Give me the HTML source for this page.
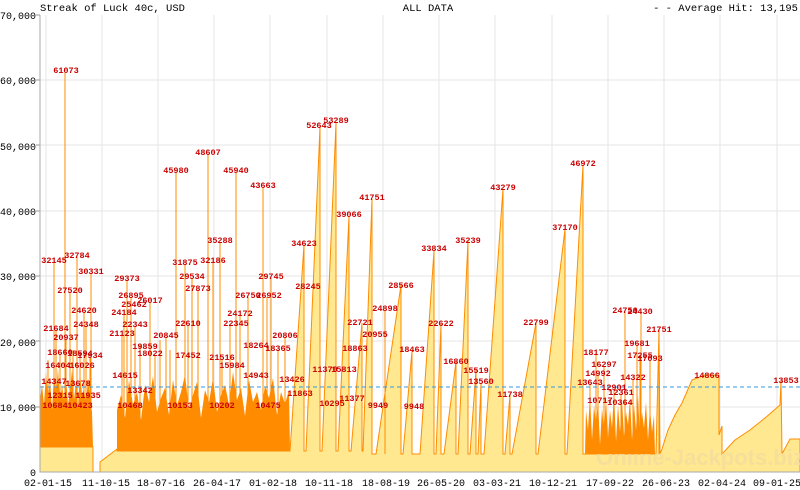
<!DOCTYPE html>
<html><head><meta charset="utf-8"><style>
html,body{margin:0;padding:0;background:#fff;width:800px;height:490px;overflow:hidden}
svg text{font-family:"Liberation Mono","DejaVu Sans Mono",monospace}
</style></head><body>
<svg width="800" height="490" xmlns="http://www.w3.org/2000/svg">
<rect width="800" height="490" fill="#fff"/>
<g stroke="#e6e6e6" stroke-width="1">
<line x1="40" y1="80" x2="800" y2="80"/><line x1="40" y1="145" x2="800" y2="145"/><line x1="40" y1="211" x2="800" y2="211"/>
<line x1="40" y1="276" x2="800" y2="276"/><line x1="40" y1="341" x2="800" y2="341"/><line x1="40" y1="407" x2="800" y2="407"/>
<line x1="46" y1="15" x2="46" y2="472"/><line x1="102" y1="15" x2="102" y2="472"/><line x1="158" y1="15" x2="158" y2="472"/>
<line x1="214" y1="15" x2="214" y2="472"/><line x1="270" y1="15" x2="270" y2="472"/><line x1="327" y1="15" x2="327" y2="472"/>
<line x1="383" y1="15" x2="383" y2="472"/><line x1="439" y1="15" x2="439" y2="472"/><line x1="495" y1="15" x2="495" y2="472"/>
<line x1="552" y1="15" x2="552" y2="472"/><line x1="608" y1="15" x2="608" y2="472"/><line x1="664" y1="15" x2="664" y2="472"/>
<line x1="720" y1="15" x2="720" y2="472"/><line x1="777" y1="15" x2="777" y2="472"/>
</g>
<g stroke="#999"><line x1="36" y1="15" x2="40" y2="15"/><line x1="36" y1="80" x2="40" y2="80"/><line x1="36" y1="145" x2="40" y2="145"/><line x1="36" y1="211" x2="40" y2="211"/><line x1="36" y1="276" x2="40" y2="276"/><line x1="36" y1="341" x2="40" y2="341"/><line x1="36" y1="407" x2="40" y2="407"/></g>
<text x="40" y="11" font-size="10.5">Streak of Luck 40c, USD</text>
<text x="428" y="11" font-size="10.5" text-anchor="middle">ALL DATA</text>
<text x="798" y="11" font-size="10.5" text-anchor="end">- - Average Hit: 13,195</text>
<g font-size="10" text-anchor="end">
<text x="36" y="19">70,000</text><text x="36" y="84">60,000</text><text x="36" y="150">50,000</text>
<text x="36" y="215">40,000</text><text x="36" y="280">30,000</text><text x="36" y="346">20,000</text>
<text x="36" y="411">10,000</text><text x="36" y="476">0</text>
</g>
<g font-size="10" text-anchor="middle">
<text x="48" y="486">02-01-15</text><text x="106" y="486">11-10-15</text><text x="161" y="486">18-07-16</text>
<text x="217" y="486">26-04-17</text><text x="273" y="486">01-02-18</text><text x="329" y="486">10-11-18</text>
<text x="386" y="486">18-08-19</text><text x="441" y="486">26-05-20</text><text x="497" y="486">03-03-21</text>
<text x="553" y="486">10-12-21</text><text x="610" y="486">17-09-22</text><text x="666" y="486">26-06-23</text>
<text x="722" y="486">02-04-24</text><text x="777" y="486">09-01-25</text>
</g>
<path fill="#ffe88f" stroke="#ff8c00" stroke-width="1" d="M40,447 L93,447 L93,472 L100,472 L100,462 L117,449 L117,451 L290,451 L304,245 L304,451 L306,451 L320,127 L320,451 L322,451 L336,123 L336,451 L338,451 L349,216 L349,451 L351,451 L362,323 L362,451 L363,451 L372,199 L372,454 L376,454 L401,285 L401,454 L403,454 L412,351 L412,454 L420,454 L434,251 L434,454 L436,454 L441,324 L441,454 L444,454 L456,362 L456,454 L458,454 L468,241 L468,454 L470,454 L476,370 L476,454 L478,454 L481,383 L481,454 L484,454 L503,189 L503,454 L505,454 L510,395 L510,454 L512,454 L536,323 L536,454 L538,454 L565,229 L565,454 L567,454 L583,165 L583,454 L656,454 L659,330 L660,454 L662,449 L668,430 L675,415 L682,403 L692,380 L705,375 L719,375 L719,435 L722,426 L722,454 L735,440 L750,430 L765,418 L780,405 L781,381 L782,454 L790,439 L800,439 L800,472 L40,472 Z"/>
<text x="700" y="465" font-size="22" font-weight="bold" fill="#f3dc9c" fill-opacity="0.8" text-anchor="middle" style="font-family:'Liberation Sans',sans-serif">Online-Jackpots.biz</text>
<g fill="#ff8c00">
<polygon points="40,447 40,400 42,385 44,405 46,372 48,398 50,380 52,410 54,375 56,395 58,368 60,402 62,385 64,400 66,378 68,405 70,390 72,370 74,400 76,382 78,407 80,372 82,395 84,388 86,404 88,378 90,398 92,412 93,447"/>
<polygon points="117,451 117,410 121,395 125,418 129,380 133,405 137,392 141,420 145,385 149,402 153,376 157,412 161,398 165,388 169,415 173,380 177,405 181,392 185,375 189,410 193,395 197,382 201,418 205,390 209,402 213,378 217,412 221,395 225,385 229,405 233,372 237,400 241,388 245,416 249,380 253,402 257,392 261,410 265,386 269,398 273,378 277,415 281,392 285,404 289,390 290,451"/>
<polygon points="585,454 586,410 588,430 590,395 592,440 594,405 596,425 598,400 600,445 602,408 604,430 606,398 608,438 610,410 612,428 614,392 616,442 618,405 620,432 622,400 624,436 626,412 628,425 630,398 632,440 634,405 636,430 638,395 640,438 642,412 644,428 646,402 648,440 650,408 652,432 654,415 655,454"/>
</g>
<g stroke="#ff8c00" stroke-width="1">
<line x1="65" y1="447" x2="65" y2="73"/><line x1="54" y1="447" x2="54" y2="262"/><line x1="77" y1="447" x2="77" y2="257"/><line x1="70" y1="447" x2="70" y2="292"/><line x1="91" y1="447" x2="91" y2="273"/><line x1="84" y1="447" x2="84" y2="312"/><line x1="86" y1="447" x2="86" y2="326"/><line x1="56" y1="447" x2="56" y2="330"/><line x1="66" y1="447" x2="66" y2="339"/><line x1="60" y1="447" x2="60" y2="354"/><line x1="80" y1="447" x2="80" y2="355"/><line x1="90" y1="447" x2="90" y2="357"/><line x1="48" y1="447" x2="48" y2="360"/><line x1="73" y1="447" x2="73" y2="350"/>
<line x1="127" y1="451" x2="127" y2="280"/><line x1="131" y1="451" x2="131" y2="297"/><line x1="150" y1="451" x2="150" y2="302"/><line x1="124" y1="451" x2="124" y2="314"/><line x1="135" y1="451" x2="135" y2="326"/><line x1="122" y1="451" x2="122" y2="335"/><line x1="140" y1="451" x2="140" y2="345"/><line x1="155" y1="451" x2="155" y2="355"/><line x1="160" y1="451" x2="160" y2="340"/><line x1="170" y1="451" x2="170" y2="350"/>
<line x1="176" y1="451" x2="176" y2="172"/><line x1="185" y1="451" x2="185" y2="264"/><line x1="192" y1="451" x2="192" y2="278"/><line x1="188" y1="451" x2="188" y2="325"/><line x1="198" y1="451" x2="198" y2="290"/><line x1="166" y1="451" x2="166" y2="337"/><line x1="208" y1="451" x2="208" y2="154"/><line x1="236" y1="451" x2="236" y2="172"/><line x1="220" y1="451" x2="220" y2="242"/><line x1="213" y1="451" x2="213" y2="262"/><line x1="222" y1="451" x2="222" y2="359"/><line x1="248" y1="451" x2="248" y2="297"/><line x1="240" y1="451" x2="240" y2="315"/><line x1="230" y1="451" x2="230" y2="325"/>
<line x1="263" y1="451" x2="263" y2="187"/><line x1="271" y1="451" x2="271" y2="278"/><line x1="267" y1="451" x2="267" y2="297"/><line x1="285" y1="451" x2="285" y2="337"/><line x1="278" y1="451" x2="278" y2="350"/><line x1="385" y1="454" x2="385" y2="310"/>
<line x1="596" y1="454" x2="596" y2="354"/><line x1="604" y1="454" x2="604" y2="366"/><line x1="598" y1="454" x2="598" y2="375"/><line x1="590" y1="454" x2="590" y2="384"/><line x1="614" y1="454" x2="614" y2="389"/><line x1="621" y1="454" x2="621" y2="394"/><line x1="633" y1="454" x2="633" y2="379"/><line x1="637" y1="454" x2="637" y2="345"/><line x1="640" y1="454" x2="640" y2="357"/><line x1="650" y1="454" x2="650" y2="360"/><line x1="625" y1="454" x2="625" y2="312"/><line x1="641" y1="454" x2="641" y2="313"/><line x1="659" y1="454" x2="659" y2="330"/>
</g>
<line x1="40" y1="387" x2="800" y2="387" stroke="#3399dd" stroke-width="1" stroke-dasharray="4,3"/>
<line x1="40" y1="15" x2="40" y2="472" stroke="#aaa"/>
<line x1="40" y1="472" x2="800" y2="472" stroke="#aaa"/>
<g font-size="8.5" font-weight="bold" fill="#cc0000" text-anchor="middle">
<text x="66" y="73">61073</text><text x="54" y="263">32145</text><text x="77" y="258">32784</text>
<text x="70" y="293">27520</text><text x="91" y="274">30331</text><text x="84" y="313">24620</text>
<text x="86" y="327">24348</text><text x="56" y="331">21684</text><text x="66" y="340">20937</text>
<text x="60" y="355">18660</text><text x="80" y="356">18594</text><text x="90" y="358">17934</text>
<text x="58" y="368">16404</text><text x="82" y="368">16026</text><text x="54" y="384">14347</text>
<text x="78" y="386">13678</text><text x="60" y="398">12315</text><text x="88" y="398">11935</text>
<text x="55" y="408">10684</text><text x="80" y="408">10423</text>
<text x="127" y="281">29373</text><text x="131" y="298">26895</text><text x="134" y="307">25462</text>
<text x="150" y="303">26017</text><text x="124" y="315">24184</text><text x="135" y="327">22343</text>
<text x="122" y="336">21123</text><text x="145" y="349">19859</text><text x="150" y="356">18022</text>
<text x="125" y="378">14615</text><text x="140" y="393">13342</text><text x="130" y="408">10468</text>
<text x="176" y="173">45980</text><text x="185" y="265">31875</text><text x="192" y="279">29534</text>
<text x="188" y="326">22610</text><text x="198" y="291">27873</text><text x="166" y="338">20845</text>
<text x="188" y="358">17452</text><text x="180" y="408">10153</text><text x="208" y="155">48607</text>
<text x="236" y="173">45940</text><text x="220" y="243">35288</text><text x="213" y="263">32186</text>
<text x="222" y="360">21516</text><text x="248" y="298">26750</text><text x="240" y="316">24172</text>
<text x="236" y="326">22345</text><text x="232" y="368">15984</text><text x="222" y="408">10202</text>
<text x="263" y="188">43663</text><text x="271" y="279">29745</text><text x="269" y="298">26952</text>
<text x="256" y="348">18264</text><text x="285" y="338">20806</text><text x="278" y="351">18365</text>
<text x="256" y="378">14943</text><text x="292" y="382">13426</text><text x="268" y="408">10475</text>
<text x="304" y="246">34623</text><text x="308" y="289">28245</text><text x="319" y="128">52643</text>
<text x="336" y="123">53289</text><text x="349" y="217">39066</text><text x="372" y="200">41751</text>
<text x="360" y="325">22721</text><text x="375" y="337">20955</text><text x="325" y="372">11370</text>
<text x="344" y="372">15813</text><text x="355" y="351">18863</text><text x="332" y="406">10295</text>
<text x="352" y="401">11377</text><text x="378" y="408">9949</text><text x="300" y="396">11863</text>
<text x="385" y="311">24898</text><text x="401" y="288">28566</text><text x="412" y="352">18463</text>
<text x="414" y="409">9948</text><text x="434" y="251">33834</text><text x="441" y="326">22622</text>
<text x="456" y="364">16860</text><text x="468" y="243">35239</text><text x="476" y="373">15519</text>
<text x="481" y="384">13560</text><text x="503" y="190">43279</text><text x="510" y="397">11738</text>
<text x="536" y="325">22799</text><text x="565" y="230">37170</text><text x="583" y="166">46972</text>
<text x="596" y="355">18177</text><text x="604" y="367">16297</text><text x="598" y="376">14992</text>
<text x="590" y="385">13643</text><text x="614" y="390">12901</text><text x="621" y="395">12361</text>
<text x="600" y="403">10717</text><text x="620" y="405">10364</text><text x="633" y="380">14322</text>
<text x="637" y="346">19681</text><text x="640" y="358">17255</text><text x="650" y="361">17093</text>
<text x="625" y="313">24750</text><text x="640" y="314">24430</text><text x="659" y="332">21751</text>
<text x="707" y="378">14866</text><text x="786" y="383">13853</text>
</g>
</svg>
</body></html>
